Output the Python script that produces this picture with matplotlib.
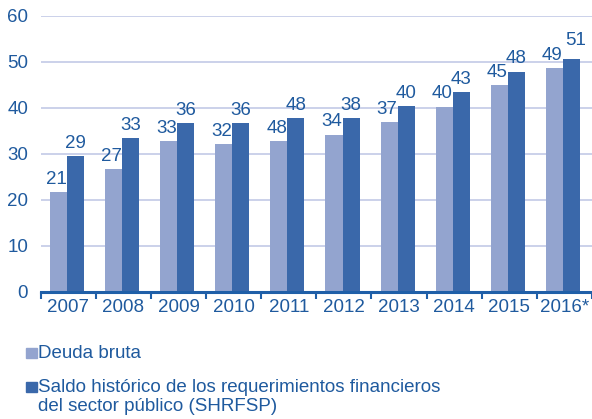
import matplotlib
matplotlib.use('Agg')
import matplotlib.pyplot as plt
from matplotlib.patches import Rectangle
import numpy as np

# Datos
years = ['2007', '2008', '2009', '2010', '2011', '2012', '2013', '2014', '2015', '2016*']
deuda_bruta = [21.7, 26.7, 32.8, 32.2, 32.8, 34.2, 36.9, 40.3, 45.0, 48.6]
shrfsp = [29.5, 33.4, 36.7, 36.7, 37.8, 37.8, 40.4, 43.4, 47.9, 50.6]
# etiquetas tal como aparecen en la figura
labels_deuda = ['21', '27', '33', '32', '48', '34', '37', '40', '45', '49']
labels_shrfsp = ['29', '33', '36', '36', '48', '38', '40', '43', '48', '51']
series_names = ['Deuda bruta',
                'Saldo histórico de los requerimientos financieros\ndel sector público (SHRFSP)']

TXT = '#1F5A9E'
AXIS = '#1F5FA8'
LIGHT = '#93A4CF'
DARK = '#3A68AA'
GRID = '#C7CEE8'
FS = 13.5

plt.rcParams['font.family'] = ['Liberation Sans', 'DejaVu Sans']

W, H = 592, 419
fig = plt.figure(figsize=(W / 100, H / 100), dpi=100)
ax = fig.add_axes([40.7 / W, (H - 292) / H, 1 - 40.7 / W, (292 - 16) / H])

x = np.arange(len(years))
bw = 0.31
b1 = ax.bar(x - 0.18, deuda_bruta, bw, color=LIGHT, zorder=3)
b2 = ax.bar(x + 0.13, shrfsp, bw, color=DARK, zorder=3)

for i, r in enumerate(b1):
    ax.annotate(labels_deuda[i], (r.get_x() + r.get_width() / 2, r.get_height()),
                xytext=(-1.5, 6), textcoords='offset points', ha='center', va='baseline',
                fontsize=FS, color=TXT, annotation_clip=False)
for i, r in enumerate(b2):
    off = (3, 10) if i == len(b2) - 1 else (0, 6)
    ax.annotate(labels_shrfsp[i], (r.get_x() + r.get_width() / 2, r.get_height()),
                xytext=off, textcoords='offset points', ha='center', va='baseline',
                fontsize=FS, color=TXT, annotation_clip=False)

ax.set_xlim(-0.5, len(years) - 0.5)
ax.set_ylim(0, 60)
ax.set_yticks(range(0, 61, 10))
ax.set_xticks(x)
ax.set_xticklabels(years)
ax.set_xticks(np.arange(-0.5, len(years), 1), minor=True)

ax.tick_params(axis='y', length=0, pad=9, labelsize=FS, labelcolor=TXT)
ax.tick_params(axis='x', which='major', length=0, pad=5, labelsize=FS, labelcolor=TXT)
ax.tick_params(axis='x', which='minor', length=5, width=1.5, color=AXIS, direction='out')

ax.yaxis.grid(True, color=GRID, lw=1.3, zorder=0)
ax.set_axisbelow(True)
for s in ['left', 'right', 'top']:
    ax.spines[s].set_visible(False)
ax.spines['bottom'].set_color(AXIS)
ax.spines['bottom'].set_linewidth(2.2)
ax.spines['bottom'].set_zorder(4)

# leyenda
def px(xp, yp):
    return xp / W, 1 - yp / H

for col, yc in [(LIGHT, 353), (DARK, 387)]:
    x0, y0 = px(26, yc + 5)
    fig.patches.append(Rectangle((x0, y0), 11 / W, 10 / H, transform=fig.transFigure,
                                 color=col))
lx, ly = px(38, 353)
fig.text(lx, ly, series_names[0], fontsize=FS, color=TXT, va='center')
lx, ly = px(38, 397)
fig.text(lx, ly, series_names[1], fontsize=FS, color=TXT, va='center', linespacing=1.1)

fig.savefig('out.png', dpi=100)
